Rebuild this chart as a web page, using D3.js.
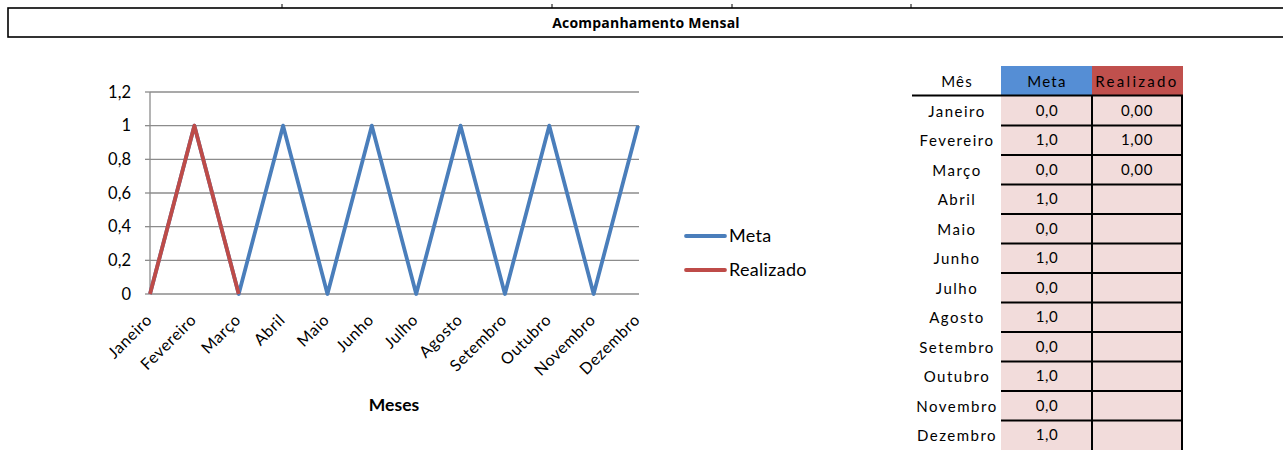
<!DOCTYPE html>
<html><head><meta charset="utf-8">
<script src="https://cdn.jsdelivr.net/npm/d3@7"></script>
<style>
html,body{margin:0;padding:0;background:#fff;}
svg{display:block;}
text{font-family:Lato,"Open Sans",sans-serif;fill:#000;}
</style></head><body>
<svg id="c" width="1283" height="450"></svg>
<script>
const months = ["Janeiro","Fevereiro","Março","Abril","Maio","Junho","Julho","Agosto","Setembro","Outubro","Novembro","Dezembro"];
const meta = [0,1,0,1,0,1,0,1,0,1,0,1];
const realizado = [0,1,0,null,null,null,null,null,null,null,null,null];
const yTicks = [0,0.2,0.4,0.6,0.8,1,1.2];
const yTickLabels = ["0","0,2","0,4","0,6","0,8","1","1,2"];
const metaLabels = ["0,0","1,0","0,0","1,0","0,0","1,0","0,0","1,0","0,0","1,0","0,0","1,0"];
const realLabels = ["0,00","1,00","0,00","","","","","","","","",""];
const title = "Acompanhamento Mensal";
const xTitle = "Meses";
const seriesNames = ["Meta","Realizado"];
const colors = {meta:"#4a7ebb", real:"#be4b48"};

const svg = d3.select("#c");

// Title box
svg.append("rect").attr("x",8).attr("y",8).attr("width",1290).attr("height",29)
  .attr("fill","none").attr("stroke","#000").attr("stroke-width",1.6);
[282,552,732,911].forEach(x=>svg.append("line").attr("x1",x).attr("x2",x).attr("y1",4).attr("y2",8).attr("stroke","#000").attr("stroke-width",1));
svg.append("text").attr("x",646).attr("y",27.5).attr("text-anchor","middle")
  .style("font-family","'Open Sans',sans-serif").attr("letter-spacing",0.2)
  .attr("font-size",14).attr("font-weight","bold").text(title);

// Chart
const x = d3.scalePoint().domain(months).range([150,638]);
const y = d3.scaleLinear().domain([0,1.2]).range([294,92]);

const g = svg.append("g");
g.selectAll("line.grid").data(yTicks).join("line")
  .attr("x1",150).attr("x2",639).attr("y1",d=>y(d)).attr("y2",d=>y(d))
  .attr("stroke","#8c8c8c").attr("stroke-width",1.3);
g.append("line").attr("x1",150).attr("x2",150).attr("y1",y(1.2)).attr("y2",y(0))
  .attr("stroke","#8c8c8c").attr("stroke-width",1.3);
g.selectAll("line.tk").data(yTicks).join("line")
  .attr("x1",145).attr("x2",150).attr("y1",d=>y(d)).attr("y2",d=>y(d))
  .attr("stroke","#8c8c8c").attr("stroke-width",1.3);
g.selectAll("text.yl").data(yTicks).join("text")
  .attr("x",131).attr("y",d=>y(d)).attr("dy","0.35em").attr("text-anchor","end")
  .attr("font-size",16.5).text((d,i)=>yTickLabels[i]);

const line = d3.line().defined(d=>d.v!=null).x(d=>x(d.m)).y(d=>y(d.v));
g.append("path").datum(months.map((m,i)=>({m,v:meta[i]})))
  .attr("d",line).attr("fill","none").attr("stroke",colors.meta).attr("stroke-width",3.8).attr("stroke-linejoin","round");
g.append("path").datum(months.map((m,i)=>({m,v:realizado[i]})))
  .attr("d",line).attr("fill","none").attr("stroke",colors.real).attr("stroke-width",3.8).attr("stroke-linejoin","round");

g.selectAll("text.xl").data(months).join("text")
  .attr("transform",d=>`translate(${x(d)+3},${321}) rotate(-45)`)
  .attr("text-anchor","end").attr("font-size",16).attr("letter-spacing",0.6).text(d=>d);

g.append("text").attr("x",394).attr("y",411).attr("text-anchor","middle")
  .attr("font-size",17.5).attr("font-weight","bold").text(xTitle);

// Legend
[[colors.meta,236,seriesNames[0]],[colors.real,270,seriesNames[1]]].forEach(([c,yy,t])=>{
  svg.append("line").attr("x1",686).attr("x2",725).attr("y1",yy).attr("y2",yy)
    .attr("stroke",c).attr("stroke-width",3.8).attr("stroke-linecap","round");
  svg.append("text").attr("x",729).attr("y",yy).attr("dy","0.36em").attr("font-size",18).attr("letter-spacing",0.3).text(t);
});

// Table
const rowY = d3.scaleBand().domain(months).range([96,450]);
svg.append("rect").attr("x",1001).attr("y",66).attr("width",91).attr("height",30).attr("fill","#558ed5");
svg.append("rect").attr("x",1092).attr("y",66).attr("width",91).attr("height",30).attr("fill","#c0504d");
svg.append("rect").attr("x",1001).attr("y",96).attr("width",182).attr("height",354).attr("fill","#f2dcdb");
const hdr = [["Mês",957,1.2],["Meta",1047,1.3],["Realizado",1137,2.3]];
hdr.forEach(([t,cx,ls])=>svg.append("text").attr("x",cx).attr("y",82).attr("dy","0.35em")
  .attr("text-anchor","middle").attr("font-size",15).attr("letter-spacing",ls).text(t));
svg.append("line").attr("x1",912).attr("x2",1183).attr("y1",95.5).attr("y2",95.5).attr("stroke","#000").attr("stroke-width",2);
months.forEach((m,i)=>{
  const y0 = rowY(m), h = rowY.bandwidth();
  if(i>0) svg.append("line").attr("x1",1001).attr("x2",1183).attr("y1",y0).attr("y2",y0).attr("stroke","#000").attr("stroke-width",2);
  svg.append("text").attr("x",957).attr("y",y0+h/2+0.5).attr("dy","0.35em").attr("text-anchor","middle")
    .attr("font-size",15).attr("letter-spacing",1.5).text(m);
  svg.append("text").attr("x",1047).attr("y",y0+h/2-0.5).attr("dy","0.35em").attr("text-anchor","middle")
    .attr("font-size",15).attr("letter-spacing",0.6).text(metaLabels[i]);
  if(realLabels[i]) svg.append("text").attr("x",1137).attr("y",y0+h/2-0.5).attr("dy","0.35em").attr("text-anchor","middle")
    .attr("font-size",15).attr("letter-spacing",0.6).text(realLabels[i]);
});
[1092,1182].forEach(xx=>svg.append("line").attr("x1",xx).attr("x2",xx).attr("y1",96).attr("y2",450).attr("stroke","#000").attr("stroke-width",2));
</script></body></html>
